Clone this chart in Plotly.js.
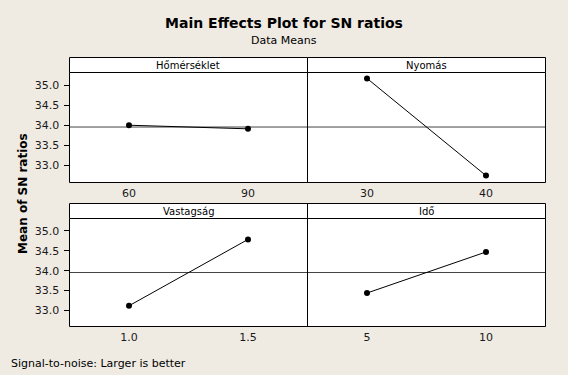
<!DOCTYPE html>
<html><head><meta charset="utf-8">
<script src="https://cdn.plot.ly/plotly-3.0.1.min.js"></script>
<style>html,body{margin:0;padding:0;background:#EFEBE3}</style>
</head><body><div id="chart" style="width:568px;height:375px"></div>
<script>
// ---- data ----
const factors = ["Hőmérséklet", "Nyomás", "Vastagság", "Idő"];
const homLevels = ["60", "90"];
const homMeans = [34.00, 33.91];
const nyoLevels = ["30", "40"];
const nyoMeans = [35.17, 32.74];
const vasLevels = ["1.0", "1.5"];
const vasMeans = [33.12, 34.785];
const idoLevels = ["5", "10"];
const idoMeans = [33.44, 34.47];
const grandMean = 33.955;
const yTickVals = [33.0, 33.5, 34.0, 34.5, 35.0];
const yTickText = ["33.0", "33.5", "34.0", "34.5", "35.0"];

const W = 568, H = 375;
const px = v => v / W;
const py = v => 1 - v / H;
const FONT = "DejaVu Sans";

const levels = [homLevels, nyoLevels, vasLevels, idoLevels];
const means = [homMeans, nyoMeans, vasMeans, idoMeans];
const axSuffix = ["", "2", "3", "4"];

const colX = [[69.5, 307.5], [307.5, 545.5]];
const rowY = [[72.5, 182.5, 57.5], [218.5, 326.5, 203.5]]; // plot top, plot bottom, strip top
const yRanges = [[32.568, 35.318], [32.600, 35.310]];

const traces = [];
const layout = {
  width: W, height: H,
  margin: {l: 0, r: 0, t: 0, b: 0},
  paper_bgcolor: "#EFEBE3",
  plot_bgcolor: "#FFFFFF",
  showlegend: false,
  font: {family: FONT, size: 11, color: "#1a1a1a"},
  title: {text: "<b>Main Effects Plot for SN ratios</b>", x: 0.5, xanchor: "center", xref: "paper",
          y: py(22.7), yanchor: "middle", yref: "paper",
          font: {family: FONT, size: 14, color: "#000"}},
  shapes: [],
  annotations: [
    {text: "Data Means", xref: "paper", yref: "paper", x: px(284), y: py(40.5),
     xanchor: "center", yanchor: "middle", showarrow: false,
     font: {family: FONT, size: 11, color: "#000"}},
    {text: "<b>Mean of SN ratios</b>", xref: "paper", yref: "paper", x: px(23), y: py(194),
     xanchor: "center", yanchor: "middle", textangle: -90, showarrow: false,
     font: {family: FONT, size: 12, color: "#000"}},
    {text: "Signal-to-noise: Larger is better", xref: "paper", yref: "paper", x: px(9), y: py(363),
     xanchor: "left", yanchor: "middle", showarrow: false,
     font: {family: FONT, size: 11, color: "#000"}}
  ]
};

for (let i = 0; i < 4; i++) {
  const r = Math.floor(i / 2), c = i % 2;
  const s = axSuffix[i];
  const xa = "x" + s, ya = "y" + s;
  traces.push({
    type: "scatter", mode: "lines+markers",
    x: levels[i], y: means[i], xaxis: xa, yaxis: ya,
    line: {color: "#000", width: 1},
    marker: {color: "#000", size: 6},
    hoverinfo: "skip", cliponaxis: false
  });
  layout["xaxis" + s] = {
    domain: [px(colX[c][0]), px(colX[c][1])],
    anchor: ya, type: "category", range: [-0.5, 1.5],
    showline: false, ticks: "", showgrid: false, zeroline: false,
    ticklabelstandoff: 2,
    tickfont: {family: FONT, size: 11, color: "#1a1a1a"}
  };
  layout["yaxis" + s] = {
    domain: [py(rowY[r][1]), py(rowY[r][0])],
    anchor: xa, range: yRanges[r],
    tickvals: yTickVals, ticktext: yTickText,
    showticklabels: c === 0,
    ticks: c === 0 ? "outside" : "", ticklen: 5, tickcolor: "#000", tickwidth: 1,
    ticklabelstandoff: 2,
    showline: false, showgrid: false, zeroline: false,
    tickfont: {family: FONT, size: 11, color: "#1a1a1a"}
  };
  // grand mean reference line
  layout.shapes.push({type: "line", xref: xa + " domain", yref: ya,
    x0: 0, x1: 1, y0: grandMean, y1: grandMean,
    line: {color: "#444", width: 1}, layer: "below"});
  // panel border
  layout.shapes.push({type: "rect", xref: "paper", yref: "paper",
    x0: px(colX[c][0]), x1: px(colX[c][1]), y0: py(rowY[r][1]), y1: py(rowY[r][0]),
    fillcolor: "rgba(0,0,0,0)", line: {color: "#000", width: 1}});
  // strip
  layout.shapes.push({type: "rect", xref: "paper", yref: "paper",
    x0: px(colX[c][0]), x1: px(colX[c][1]), y0: py(rowY[r][0]), y1: py(rowY[r][2]),
    fillcolor: "#FFFFFF", line: {color: "#000", width: 1}});
  layout.annotations.push({text: factors[i], xref: "paper", yref: "paper",
    x: px((colX[c][0] + colX[c][1]) / 2), y: py((rowY[r][0] + rowY[r][2]) / 2),
    xanchor: "center", yanchor: "middle", showarrow: false,
    font: {family: FONT, size: 10, color: "#000"}});
}

Plotly.newPlot("chart", traces, layout, {displayModeBar: false, staticPlot: true});
</script>
</body></html>
